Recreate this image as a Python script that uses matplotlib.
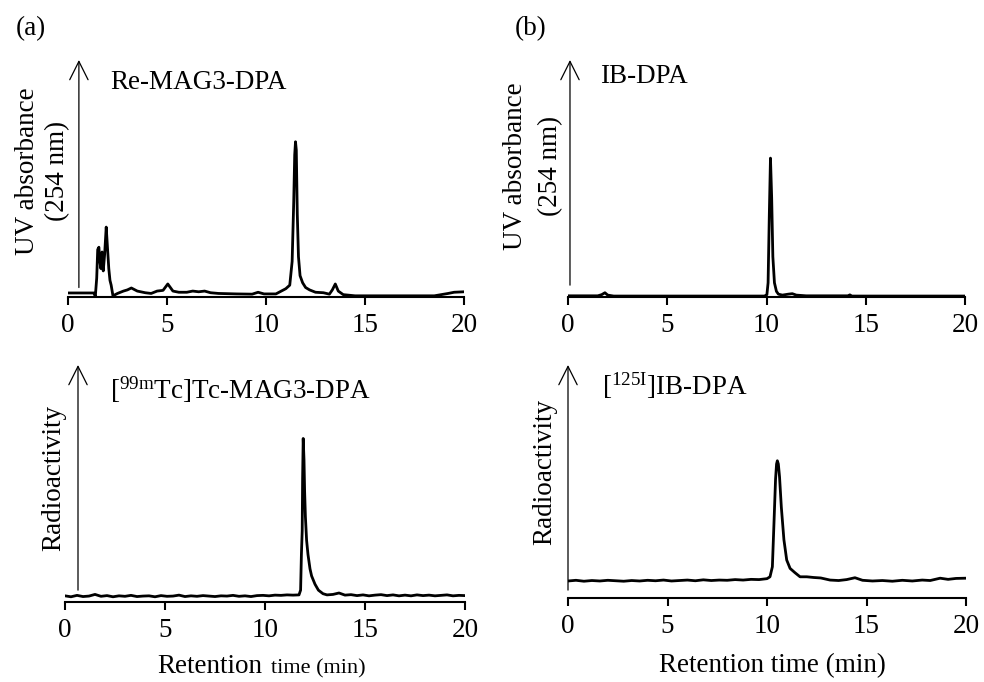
import matplotlib
matplotlib.use("Agg")
import matplotlib.pyplot as plt

plt.rcParams["font.family"] = ["Liberation Serif", "DejaVu Serif"]
plt.rcParams["mathtext.fontset"] = "custom"
plt.rcParams["mathtext.rm"] = "Liberation Serif"
plt.rcParams["mathtext.it"] = "Liberation Serif:italic"

# Retention time (min) and detector signal (% of full scale) for each chromatogram
re_mag3_t = [0, 1.30, 1.38, 1.45, 1.50, 1.56, 1.61, 1.66, 1.72, 1.78, 1.85, 1.93,
             2.00, 2.06, 2.12, 2.18, 2.27, 2.5, 2.8, 3.0, 3.2, 3.5, 3.9, 4.2,
             4.5, 4.8, 5.04, 5.3, 5.6, 6.0, 6.3, 6.6, 6.9, 7.2, 7.6, 8.5, 9.3,
             9.6, 9.9, 10.5, 11.0, 11.2, 11.32, 11.40, 11.45, 11.49, 11.53,
             11.58, 11.64, 11.72, 11.85, 12.0, 12.2, 12.5, 12.9, 13.2, 13.35,
             13.5, 13.65, 13.9, 14.5, 15.5, 16.5, 17.5, 18.5, 19.2, 19.5, 20]
re_mag3_y = [1.7, 1.7, 0.3, 8, 20, 21, 15, 12, 19, 11, 18, 29.5,
             20, 12, 7, 5, 0.5, 1.5, 2.5, 3, 3.8, 2.5, 1.8, 1.5,
             2.5, 2.8, 5.5, 2.5, 2, 2, 2.5, 2.2, 2.5, 1.8, 1.5, 1.3, 1.2,
             2, 1.3, 1.3, 3.5, 5, 15, 40, 60, 65.5, 62,
             35, 17, 9, 6, 4, 3, 2, 1.8, 1.2, 3,
             5.5, 2.5, 1, 0.5, 0.5, 0.5, 0.5, 0.5, 1.5, 2, 2.2]

tc_mag3_t = [0, 0.3, 0.6, 0.9, 1.2, 1.5, 1.8, 2.1, 2.4, 2.7, 3.0, 3.3, 3.6,
             3.9, 4.2, 4.5, 4.8, 5.1, 5.4, 5.7, 6.0, 6.3, 6.6, 6.9, 7.2, 7.5,
             7.8, 8.1, 8.4, 8.7, 9.0, 9.3, 9.6, 9.9, 10.2, 10.5, 10.8, 11.1,
             11.4, 11.7, 11.78, 11.82, 11.86, 11.88, 11.91, 11.95, 11.98,
             12.02, 12.08, 12.15, 12.25, 12.33, 12.5, 12.67, 12.9, 13.1, 13.4,
             13.7, 14.0, 14.3, 14.6, 14.9, 15.2, 15.5, 15.8, 16.1, 16.4, 16.7,
             17.0, 17.3, 17.6, 17.9, 18.2, 18.5, 18.8, 19.1, 19.4, 19.7, 20]
tc_mag3_y = [2.6, 2.2, 2.8, 2.3, 2.5, 3.2, 2.4, 2.7, 2.2, 2.6, 2.4, 2.8, 2.3,
             2.5, 2.6, 2.2, 2.7, 2.4, 2.5, 2.9, 2.3, 2.6, 2.4, 2.7, 2.5, 2.3,
             2.6, 2.5, 2.8, 2.4, 2.6, 2.3, 2.7, 2.8, 2.6, 2.9, 2.8, 3.0,
             2.9, 3.0, 5, 20, 30, 52, 69, 60, 47,
             36, 26, 20, 14, 11, 7.5, 5, 3.5, 3.0, 3.2,
             3.8, 2.9, 3.1, 2.7, 3.0, 2.6, 2.9, 3.1, 2.7, 3.0, 2.6,
             2.9, 2.6, 3.0, 2.7, 2.9, 2.6, 2.8, 3.0, 2.6, 2.8, 2.7]

ib_dpa_t = [0, 1.5, 1.7, 1.86, 2.0, 2.3, 5, 9.9, 10.02, 10.08, 10.14, 10.2,
            10.26, 10.32, 10.4, 10.5, 10.6, 10.8, 11.1, 11.3, 11.5, 12, 14.1,
            14.2, 14.3, 17, 20]
ib_dpa_y = [0.5, 0.5, 1.0, 1.8, 0.8, 0.4, 0.4, 0.4, 1.0, 6, 34, 58.6,
            42, 17, 6, 2.4, 1.2, 0.8, 1.2, 1.4, 0.8, 0.5, 0.5,
            0.9, 0.4, 0.4, 0.4]

i125_t = [0, 0.4, 0.8, 1.2, 1.6, 2.0, 2.4, 2.8, 3.2, 3.6, 4.0, 4.4, 4.8,
          5.2, 5.6, 6.0, 6.4, 6.8, 7.2, 7.6, 8.0, 8.4, 8.8, 9.2, 9.6, 10.0,
          10.15, 10.27, 10.35, 10.43, 10.48, 10.52, 10.57, 10.63, 10.72,
          10.85, 10.99, 11.16, 11.4, 11.66, 12.0, 12.35, 12.7, 13.17, 13.6,
          14.0, 14.42, 14.8, 15.3, 15.8, 16.3, 16.8, 17.3, 17.8, 18.2, 18.7,
          19.1, 19.5, 20]
i125_y = [7.3, 7.6, 7.2, 7.5, 7.3, 7.6, 7.4, 7.2, 7.5, 7.3, 7.6, 7.4, 7.7,
          7.3, 7.5, 7.7, 7.4, 7.8, 7.5, 7.7, 7.6, 7.9, 7.7, 8.0, 7.9, 8.3,
          9.1, 13.4, 32, 51, 57.5, 58.9, 57.5, 52, 39,
          25, 16.3, 12.7, 10.9, 9.1, 9.1, 8.8, 8.6, 7.7, 7.5,
          7.9, 8.7, 7.6, 7.3, 7.5, 7.2, 7.6, 7.3, 7.7, 7.5, 8.5,
          8.0, 8.4, 8.5]

x_ticks = [0, 5, 10, 15, 20]

W, H = 984, 682
fig = plt.figure(figsize=(W / 100, H / 100), dpi=100)


def px_axes(left, right, bottom, top):
    return fig.add_axes([left / W, 1 - bottom / H, (right - left) / W, (bottom - top) / H])


def px_text(x, y, s, **kw):
    fig.text(x / W, 1 - y / H, s, **kw)


def chromatogram(ax, t, y, arrow_x, arrow_y0):
    ax.plot(t, y, color="black", lw=2.0, solid_joinstyle="round")
    ax.set_xlim(0, 20)
    ax.set_ylim(0, 100)
    for side in ("left", "right", "top"):
        ax.spines[side].set_visible(False)
    ax.spines["bottom"].set_linewidth(1.5)
    ax.set_yticks([])
    ax.set_xticks(x_ticks)
    ax.tick_params(axis="x", direction="out", length=5.8, width=1.5,
                   labelsize=19.5, pad=6)
    ax.patch.set_alpha(0)
    ax.annotate("", xy=(arrow_x, 100), xytext=(arrow_x, arrow_y0),
                xycoords="data", annotation_clip=False,
                arrowprops=dict(arrowstyle="->,head_length=0.6,head_width=0.3",
                                lw=0.9, color="black", mutation_scale=22,
                                shrinkA=0, shrinkB=0))


ax_tl = px_axes(68, 464, 297, 60)
chromatogram(ax_tl, re_mag3_t, re_mag3_y, 0.55, 4)
ax_tr = px_axes(568, 965, 297, 60)
chromatogram(ax_tr, ib_dpa_t, ib_dpa_y, 0.1, 5)
ax_bl = px_axes(65, 465, 602, 365)
chromatogram(ax_bl, tc_mag3_t, tc_mag3_y, 0.65, 5)
ax_br = px_axes(568, 966, 598, 365)
chromatogram(ax_br, i125_t, i125_y, 0.0, 3.4)

fs = 19.5
# Panel letters
px_text(16, 35, "(a)", fontsize=fs, ha="left", va="baseline")
px_text(515, 35, "(b)", fontsize=fs, ha="left", va="baseline")

# Compound names
px_text(110, 89, "Re-MAG3-DPA", fontsize=fs, ha="left", va="baseline")
px_text(600, 83, "IB-DPA", fontsize=fs, ha="left", va="baseline")
px_text(110, 399, r"[$^{\mathrm{99m}}$Tc]Tc-MAG3-DPA", fontsize=fs, ha="left", va="baseline")
px_text(602, 395, r"[$^{\mathrm{125I}}$]IB-DPA", fontsize=fs, ha="left", va="baseline")

# Detector labels
px_text(28, 171, "UV absorbance", fontsize=fs, rotation=90, ha="center", va="center")
px_text(58, 171, "(254 nm)", fontsize=fs, rotation=90, ha="center", va="center")
px_text(515, 166, "UV absorbance", fontsize=fs, rotation=90, ha="center", va="center")
px_text(551, 166, "(254 nm)", fontsize=fs, rotation=90, ha="center", va="center")
px_text(54, 478, "Radioactivity", fontsize=fs, rotation=90, ha="center", va="center")
px_text(545, 472, "Radioactivity", fontsize=fs, rotation=90, ha="center", va="center")

# Retention-time axis titles
px_text(157, 673, "Retention", fontsize=fs, ha="left", va="baseline")
px_text(271, 673, "time (min)", fontsize=16, ha="left", va="baseline")
px_text(772, 672, "Retention time (min)", fontsize=fs, ha="center", va="baseline")

fig.savefig("out.png", dpi=100)
